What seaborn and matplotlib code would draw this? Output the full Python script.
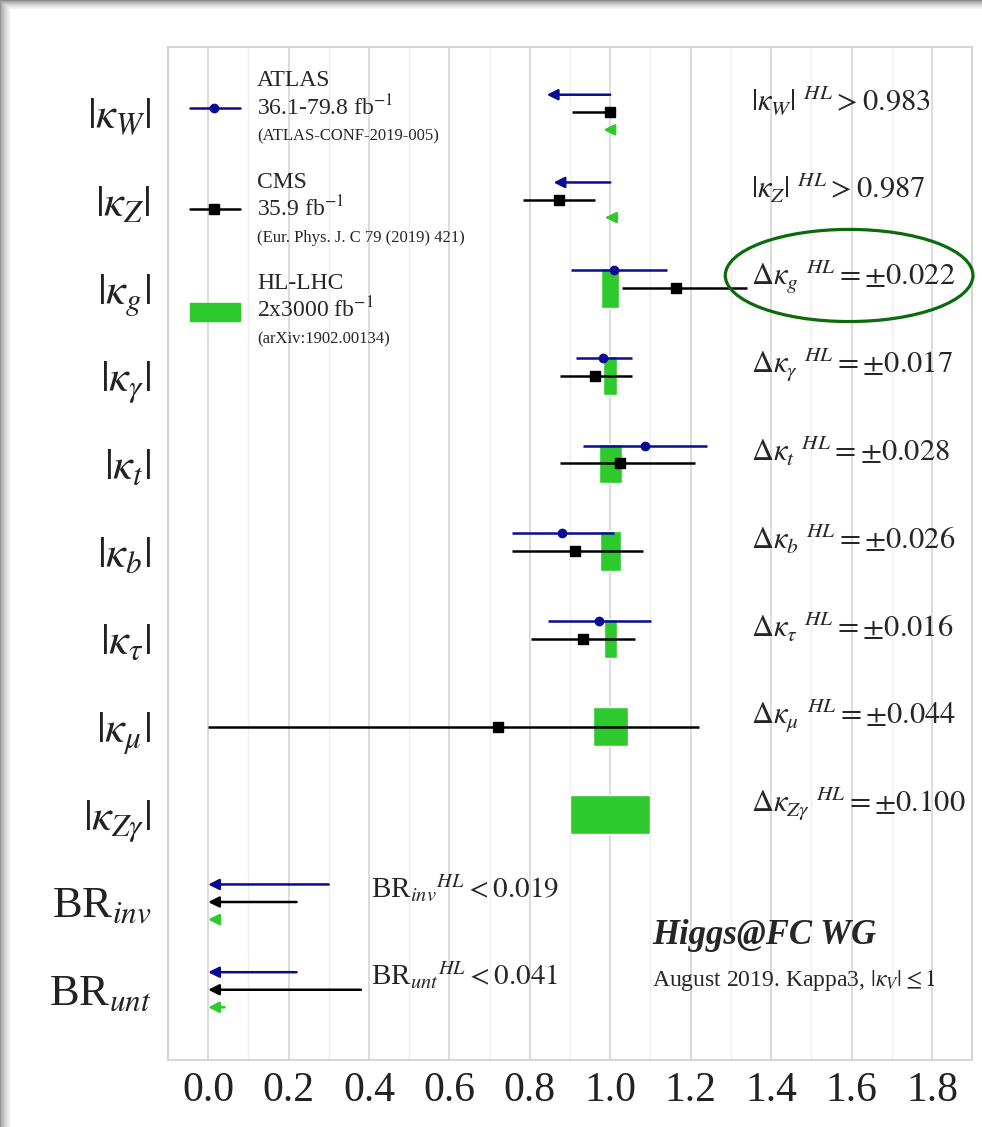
import numpy as np
import matplotlib
matplotlib.use('Agg')
import matplotlib.pyplot as plt
import seaborn as sns
from matplotlib.ticker import MultipleLocator, FormatStrFormatter
from matplotlib.patches import Ellipse, Rectangle
from matplotlib.lines import Line2D

# categories (top to bottom)
cats = ['$|\\kappa_W|$', '$|\\kappa_Z|$', '$|\\kappa_g|$', '$|\\kappa_\\gamma|$',
        '$|\\kappa_t|$', '$|\\kappa_b|$', '$|\\kappa_\\tau|$', '$|\\kappa_\\mu|$',
        '$|\\kappa_{Z\\gamma}|$', 'BR$_{inv}$', 'BR$_{unt}$']

# ATLAS measurements: category index, central, low, high
atlas_idx = [2, 3, 4, 5, 6]
atlas_val = [1.01, 0.983, 1.087, 0.881, 0.971]
atlas_lo = [0.903, 0.914, 0.933, 0.755, 0.844]
atlas_hi = [1.142, 1.053, 1.241, 1.010, 1.102]
# ATLAS limits (arrow from start to end)
atlas_lim_idx = [0, 1, 9, 10]
atlas_lim_start = [1.0, 1.0, 0.30, 0.22]
atlas_lim_end = [0.842, 0.859, 0.0, 0.0]

# CMS measurements
cms_idx = [0, 1, 2, 3, 4, 5, 6, 7]
cms_val = [1.0, 0.873, 1.164, 0.963, 1.023, 0.913, 0.933, 0.722]
cms_lo = [0.904, 0.782, 1.03, 0.874, 0.874, 0.755, 0.804, 0.0]
cms_hi = [1.0, 0.961, 1.34, 1.053, 1.211, 1.082, 1.062, 1.221]
cms_lim_idx = [9, 10]
cms_lim_start = [0.22, 0.38]
cms_lim_end = [0.0, 0.0]

# HL-LHC projections
hl_idx = [2, 3, 4, 5, 6, 7, 8]
hl_err = [0.022, 0.017, 0.028, 0.026, 0.016, 0.044, 0.100]
hl_lim_idx = [0, 1, 9, 10]
hl_lim_start = [1.0, 1.0, 0.019, 0.041]
hl_lim_end = [0.983, 0.987, 0.0, 0.0]

hl_text = ['$|\\kappa_W|\\ {}^{HL} > 0.983$', '$|\\kappa_Z|\\ {}^{HL} > 0.987$',
           '$\\Delta\\kappa_g\\ {}^{HL} = \\pm0.022$', '$\\Delta\\kappa_\\gamma\\ {}^{HL} = \\pm0.017$',
           '$\\Delta\\kappa_t\\ {}^{HL} = \\pm0.028$', '$\\Delta\\kappa_b\\ {}^{HL} = \\pm0.026$',
           '$\\Delta\\kappa_\\tau\\ {}^{HL} = \\pm0.016$', '$\\Delta\\kappa_\\mu\\ {}^{HL} = \\pm0.044$',
           '$\\Delta\\kappa_{Z\\gamma}\\ {}^{HL} = \\pm0.100$']
br_text = ['BR$_{inv}{}^{HL} < 0.019$', 'BR$_{unt}{}^{HL} < 0.041$']

blue = '#0a0a96'
green = '#2dc92d'
black = 'black'

sns.set_theme(style='white')
plt.rcParams['font.family'] = ['Liberation Serif', 'DejaVu Serif']
plt.rcParams['mathtext.fontset'] = 'stix'

fig = plt.figure(figsize=(9.82, 11.27), dpi=100)

# page shadow along the top and left edges
bg = fig.add_axes([0, 0, 1, 1], zorder=-10)
h, w = 1127, 982
shade = np.ones((h, w))
top = np.clip(np.arange(h) / 9.0, 0, 1)
left = np.clip(np.arange(w) / 11.0, 0, 1)
shade = np.minimum(shade, 0.55 + 0.45 * top[:, None] ** 0.7 * np.ones((1, w)))
shade = np.minimum(shade, 0.6 + 0.4 * np.ones((h, 1)) * left[None, :] ** 0.7)
bg.imshow(shade, cmap='gray', vmin=0, vmax=1, aspect='auto', interpolation='bilinear')
bg.axis('off')

ax = fig.add_axes([0.171, 0.0595, 0.819, 0.8985])

off = 0.2

# HL bars
hl_err_a = np.array(hl_err)
ax.barh(np.array(hl_idx), 2 * hl_err_a, left=1 - hl_err_a, height=0.45,
        color=green, zorder=2)

# measurements
av = np.array(atlas_val)
ax.errorbar(av, np.array(atlas_idx) - off,
            xerr=[av - np.array(atlas_lo), np.array(atlas_hi) - av],
            fmt='o', color=blue, ms=6, elinewidth=1.8, capsize=0, zorder=4)
cv = np.array(cms_val)
ax.errorbar(cv, np.array(cms_idx),
            xerr=[cv - np.array(cms_lo), np.array(cms_hi) - cv],
            fmt='s', color=black, ms=7, elinewidth=1.8, capsize=0, zorder=4)


def draw_limits(idx, start, end, yoff, col):
    for i, s, e in zip(idx, start, end):
        ax.annotate('', xy=(e, i + yoff), xytext=(s, i + yoff),
                    arrowprops=dict(arrowstyle='-|>', color=col, lw=1.8,
                                    mutation_scale=16, shrinkA=0, shrinkB=0),
                    zorder=4)


draw_limits(atlas_lim_idx, atlas_lim_start, atlas_lim_end, -off, blue)
draw_limits(cms_lim_idx, cms_lim_start, cms_lim_end, 0, black)
draw_limits(hl_lim_idx, hl_lim_start, hl_lim_end, off, green)

# texts on the right
for i, t in enumerate(hl_text):
    ax.text(1.35, i - 0.13, t, fontsize=22, va='center', ha='left')
for k, t in enumerate(br_text):
    ax.text(0.405, 9 + k - 0.16, t, fontsize=21, va='center', ha='left')

ax.text(1.105, 9.38, 'Higgs@FC WG', fontsize=25, fontweight='bold',
        style='italic', va='center')
ax.text(1.105, 9.9, 'August 2019. Kappa3, $|\\kappa_V|\\leq 1$', fontsize=17,
        va='center')

# highlight ellipse around kappa_g
ax.add_patch(Ellipse((1.594, 1.86), 0.616, 1.05, fill=False, ec='#0b6b0b',
                     lw=2.3, clip_on=False, zorder=5))

# legend (manual)
leg = [('ATLAS', '36.1-79.8 fb$^{-1}$', '(ATLAS-CONF-2019-005)'),
       ('CMS', '35.9 fb$^{-1}$', '(Eur. Phys. J. C 79 (2019) 421)'),
       ('HL-LHC', '2x3000 fb$^{-1}$', '(arXiv:1902.00134)')]
for k, (l1, l2, l3) in enumerate(leg):
    y0 = 0.941 - 0.1 * k
    ax.text(0.111, y0 + 0.026, l1, transform=ax.transAxes, fontsize=17, va='center')
    ax.text(0.111, y0, l2, transform=ax.transAxes, fontsize=17, va='center')
    ax.text(0.111, y0 - 0.029, l3, transform=ax.transAxes, fontsize=12, va='center')
ax.add_line(Line2D([0.027, 0.0896], [0.940, 0.940], transform=ax.transAxes,
                   color=blue, lw=1.8))
ax.plot([0.057], [0.940], 'o', color=blue, ms=6, transform=ax.transAxes)
ax.add_line(Line2D([0.027, 0.0896], [0.840, 0.840], transform=ax.transAxes,
                   color=black, lw=1.8))
ax.plot([0.057], [0.840], 's', color=black, ms=7, transform=ax.transAxes)
ax.add_patch(Rectangle((0.027, 0.730), 0.0626, 0.018, transform=ax.transAxes,
                       color=green))

# axes styling
ax.set_xlim(-0.1, 1.9)
ax.set_ylim(10.8, -0.74)
ax.xaxis.set_major_locator(MultipleLocator(0.2))
ax.xaxis.set_minor_locator(MultipleLocator(0.1))
ax.xaxis.set_major_formatter(FormatStrFormatter('%.1f'))
ax.grid(axis='x', which='major', color='#d6d6d6', lw=1.2, zorder=0)
ax.grid(axis='x', which='minor', color='#eeeeee', lw=1.0, zorder=0)
ax.grid(axis='y', visible=False)
ax.set_axisbelow(True)
ax.set_yticks(np.arange(len(cats)))
ax.set_yticklabels(cats)
ax.tick_params(axis='both', which='both', length=0)
ax.tick_params(axis='x', labelsize=30, pad=8, labelcolor='#222222')
ax.tick_params(axis='y', labelsize=32, pad=12, labelcolor='#222222')
for s in ax.spines.values():
    s.set_color('#d5d5d5')
    s.set_linewidth(1.5)

fig.savefig('out.png', dpi=100)
